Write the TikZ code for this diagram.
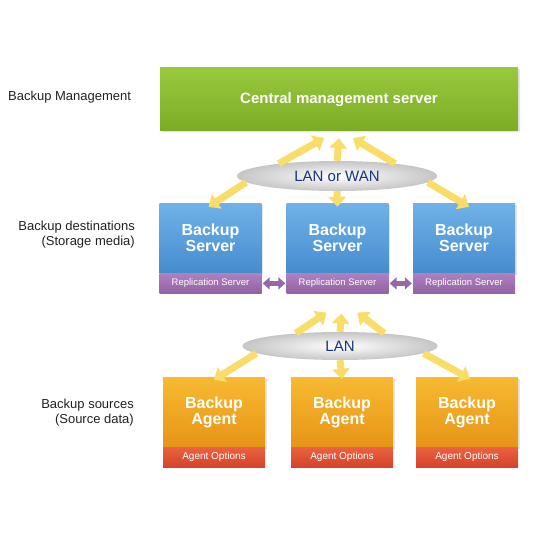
\documentclass[tikz,border=0pt]{standalone}
\usepackage{fontspec}
\setmainfont{Liberation Sans}
\usetikzlibrary{positioning,arrows.meta,shadows,shapes.geometric}

\definecolor{mgmtTop}{RGB}{152,200,60}
\definecolor{mgmtBot}{RGB}{124,172,38}
\definecolor{srvTop}{RGB}{112,178,232}
\definecolor{srvBot}{RGB}{70,140,206}
\definecolor{replTop}{RGB}{174,128,190}
\definecolor{replBot}{RGB}{146,98,164}
\definecolor{agTop}{RGB}{247,186,50}
\definecolor{agBot}{RGB}{231,148,22}
\definecolor{optTop}{RGB}{234,98,66}
\definecolor{optBot}{RGB}{212,66,42}
\definecolor{flowcol}{RGB}{250,220,105}
\definecolor{replarrow}{RGB}{152,102,172}
\definecolor{netText}{RGB}{22,52,132}
\definecolor{labelText}{RGB}{34,34,34}

\tikzset{
  box/.style      = {shape=rectangle, inner sep=0pt, align=center,
                     text=white, font=\fontsize{16}{16}\selectfont\bfseries,
                     drop shadow={opacity=0.2, shadow xshift=1.5pt, shadow yshift=-1.5pt}},
  mgmt/.style     = {box, minimum width=358pt, minimum height=63pt,
                     top color=mgmtTop, bottom color=mgmtBot,
                     font=\fontsize{15}{15}\selectfont\bfseries},
  srv/.style      = {box, minimum width=102pt, minimum height=70pt,
                     top color=srvTop, bottom color=srvBot},
  agent/.style    = {box, minimum width=102pt, minimum height=70pt,
                     top color=agTop, bottom color=agBot},
  strip/.style    = {shape=rectangle, inner sep=0pt, minimum width=102pt,
                     minimum height=20pt, text=white},
  repl/.style     = {strip, top color=replTop, bottom color=replBot,
                     font=\fontsize{9.5}{9.5}\selectfont},
  opts/.style     = {strip, top color=optTop, bottom color=optBot,
                     font=\fontsize{10}{10}\selectfont},
  net/.style      = {ellipse, inner sep=0pt, shading=radial,
                     inner color=white, outer color=gray!45,
                     text=netText, font=\fontsize{15}{15}\selectfont},
  layer/.style    = {text=labelText, inner sep=0pt, font=\fontsize{13}{15}\selectfont}
}

\begin{document}
\begin{tikzpicture}
[
  x=1pt, y=-1pt,
  flow/.style  = {draw=flowcol, line width=7pt,
                  -{Triangle[length=10pt, width=17pt]}},
  sync/.style  = {draw=replarrow, line width=5pt,
                  {Triangle[length=7pt, width=12pt]}-{Triangle[length=7pt, width=12pt]}}
]
\useasboundingbox[fill=white] (0,0) rectangle (540,540);

% layer labels
\node[layer, anchor=west] (lblMgmt) at (8,97) {Backup Management};
\node[layer, anchor=east, align=right] (lblDest) at (135,235)
     {Backup destinations\\(Storage media)};
\node[layer, anchor=east, align=right] (lblSrc) at (134,413)
     {Backup sources\\(Source data)};

% management
\node[mgmt] (cms) at (339,99.5) {Central management server};

% destinations
\node[srv] (srvA) at (210.5,238) {Backup\\Server};
\node[srv] (srvB) at (337.5,238) {Backup\\Server};
\node[srv] (srvC) at (464,238)   {Backup\\Server};
\node[repl, below=0pt of srvA] (replA) {Replication Server};
\node[repl, below=0pt of srvB] (replB) {Replication Server};
\node[repl, below=0pt of srvC] (replC) {Replication Server};

% sources
\node[agent] (agA) at (214,412) {Backup\\Agent};
\node[agent] (agB) at (342,412) {Backup\\Agent};
\node[agent] (agC) at (467,412) {Backup\\Agent};
\node[opts, below=0pt of agA] (optA) {Agent Options};
\node[opts, below=0pt of agB] (optB) {Agent Options};
\node[opts, below=0pt of agC] (optC) {Agent Options};

% networks
\node[net, minimum width=200pt, minimum height=30pt] (wan) at (337,176) {LAN or WAN};
\node[net, minimum width=195pt, minimum height=28pt] (lan) at (340,346) {LAN};

% upper links
\draw[flow] (wan.168) -- ([xshift=-15pt, yshift=-7pt]cms.south);
\draw[flow] (wan.90)  -- ([yshift=-7pt]cms.south);
\draw[flow] (wan.12)  -- ([xshift=14pt, yshift=-7pt]cms.south);
\draw[flow] (wan.184) -- ([xshift=-2pt, yshift=-4pt]srvA.north);
\draw[flow] (wan.270) -- ([yshift=-4pt]srvB.north);
\draw[flow] (wan.-4)  -- ([xshift=5pt, yshift=-4pt]srvC.north);

% lower links
\draw[flow] (lan.164) -- ([xshift=-11pt, yshift=-19pt]replB.south);
\draw[flow] (lan.90)  -- ([xshift=4pt, yshift=-20pt]replB.south);
\draw[flow] (lan.16)  -- ([xshift=20pt, yshift=-19pt]replB.south);
\draw[flow] (lan.185) -- ([yshift=-3pt]agA.north);
\draw[flow] (lan.270) -- ([yshift=-2pt]agB.north);
\draw[flow] (lan.-5)  -- ([xshift=3pt, yshift=-2pt]agC.north);

% replication
\draw[sync] ([xshift=1pt]replA.east) -- ([xshift=-1pt]replB.west);
\draw[sync] ([xshift=1pt]replB.east) -- ([xshift=-1pt]replC.west);
\end{tikzpicture}
\end{document}
